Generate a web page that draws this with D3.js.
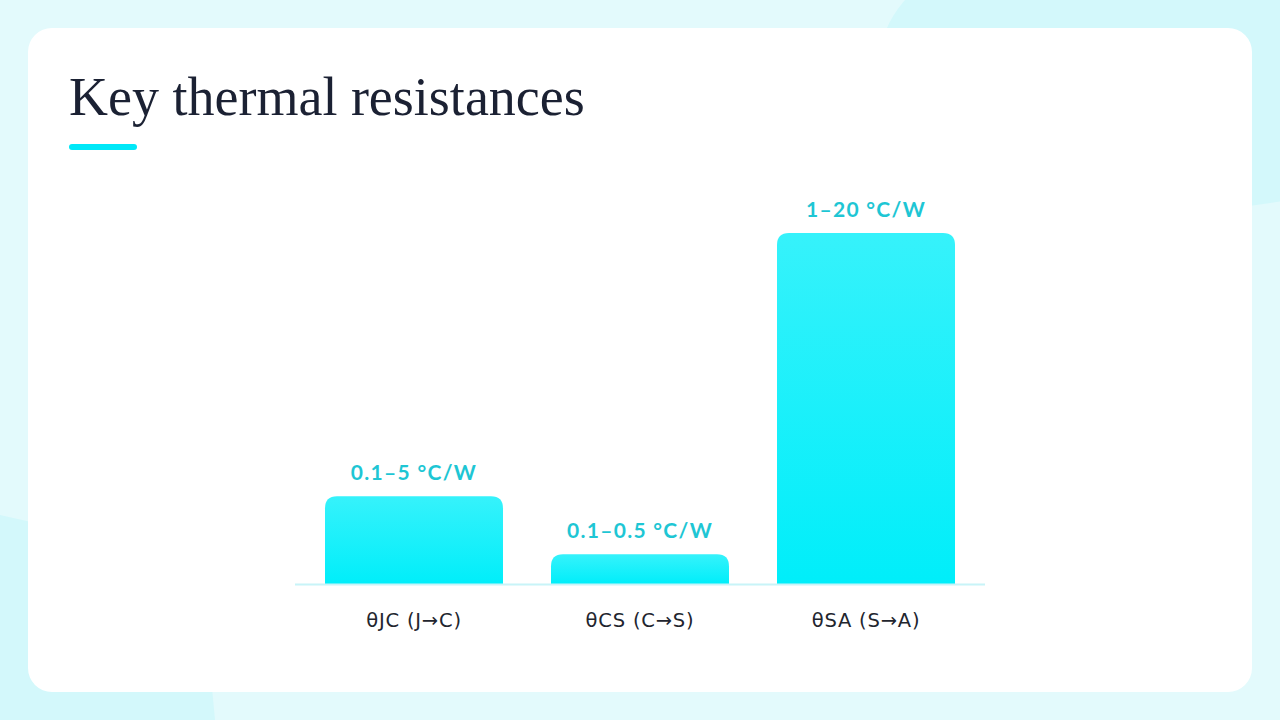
<!DOCTYPE html>
<html>
<head>
<meta charset="utf-8">
<script src="https://cdn.jsdelivr.net/npm/d3@7"></script>
<style>
  html, body { margin: 0; padding: 0; background: #e3fafc; }
  svg { display: block; }
</style>
</head>
<body>
<div id="chart"></div>
<script>
// bars show the upper end of each range, read against a 0-20 scale
const categories = ["θJC (J→C)", "θCS (C→S)", "θSA (S→A)"];
const barValues = [5, 1.7, 20];
const valueLabels = ["0.1–5 °C/W", "0.1–0.5 °C/W", "1–20 °C/W"];

const width = 1280, height = 720;
const svg = d3.select("#chart").append("svg")
    .attr("width", width)
    .attr("height", height);

const defs = svg.append("defs");
const grad = defs.append("linearGradient")
    .attr("id", "barGrad")
    .attr("x1", 0).attr("y1", 0).attr("x2", 0).attr("y2", 1);
grad.append("stop").attr("offset", "0%").attr("stop-color", "#36f2fb");
grad.append("stop").attr("offset", "100%").attr("stop-color", "#00eefa");

// background blobs
svg.append("rect").attr("width", width).attr("height", height).attr("fill", "#e3fafc");
svg.append("ellipse").attr("cx", 1180).attr("cy", 60).attr("rx", 300).attr("ry", 150).attr("fill", "#d3f8fb");
svg.append("path")
    .attr("d", "M0,515 L200,560 L215,720 L0,720 Z")
    .attr("fill", "#d3f8fb");

// card
svg.append("rect")
    .attr("x", 28).attr("y", 28)
    .attr("width", 1224).attr("height", 664)
    .attr("rx", 24)
    .attr("fill", "#ffffff");

svg.append("text")
    .attr("x", 69).attr("y", 115)
    .attr("font-family", "Liberation Serif, DejaVu Serif, serif")
    .attr("font-size", 54)
    .attr("fill", "#1b2133")
    .text("Key thermal resistances");

svg.append("rect")
    .attr("x", 69).attr("y", 144)
    .attr("width", 68).attr("height", 6)
    .attr("rx", 3)
    .attr("fill", "#00e8f8");

const x = d3.scaleBand()
    .domain(categories)
    .range([301, 979])
    .paddingInner(0.2124)
    .paddingOuter(0.1062);

const y = d3.scaleLinear()
    .domain([0, 20])
    .range([584, 233]);

const data = categories.map((c, i) => ({cat: c, value: barValues[i], label: valueLabels[i]}));

function topRounded(x0, y0, w, h, r) {
    r = Math.min(r, h, w / 2);
    return `M${x0},${y0 + h} V${y0 + r} Q${x0},${y0} ${x0 + r},${y0} H${x0 + w - r} Q${x0 + w},${y0} ${x0 + w},${y0 + r} V${y0 + h} Z`;
}

svg.selectAll(".bar")
    .data(data)
    .enter()
    .append("path")
    .attr("class", "bar")
    .attr("d", d => topRounded(x(d.cat), y(d.value), x.bandwidth(), y(0) - y(d.value), 12))
    .attr("fill", "url(#barGrad)");

svg.append("line")
    .attr("x1", x.range()[0] - 6).attr("x2", x.range()[1] + 6)
    .attr("y1", y(0) + 0.5).attr("y2", y(0) + 0.5)
    .attr("stroke", "#c8f4f8")
    .attr("stroke-width", 2);

svg.selectAll(".valueLabel")
    .data(data)
    .enter()
    .append("text")
    .attr("class", "valueLabel")
    .attr("x", d => x(d.cat) + x.bandwidth() / 2)
    .attr("y", d => y(d.value) - 16)
    .attr("text-anchor", "middle")
    .attr("font-family", "Lato, Noto Sans, sans-serif")
    .attr("font-weight", "bold")
    .attr("font-size", 21)
    .attr("letter-spacing", 1.3)
    .attr("fill", "#1ec6d4")
    .text(d => d.label);

svg.selectAll(".catLabel")
    .data(data)
    .enter()
    .append("text")
    .attr("class", "catLabel")
    .attr("x", d => x(d.cat) + x.bandwidth() / 2)
    .attr("y", 627)
    .attr("text-anchor", "middle")
    .attr("font-family", "DejaVu Sans, sans-serif")
    .attr("font-size", 19.5)
    .attr("letter-spacing", 0.8)
    .attr("fill", "#22252e")
    .text(d => d.cat);
</script>
</body>
</html>
